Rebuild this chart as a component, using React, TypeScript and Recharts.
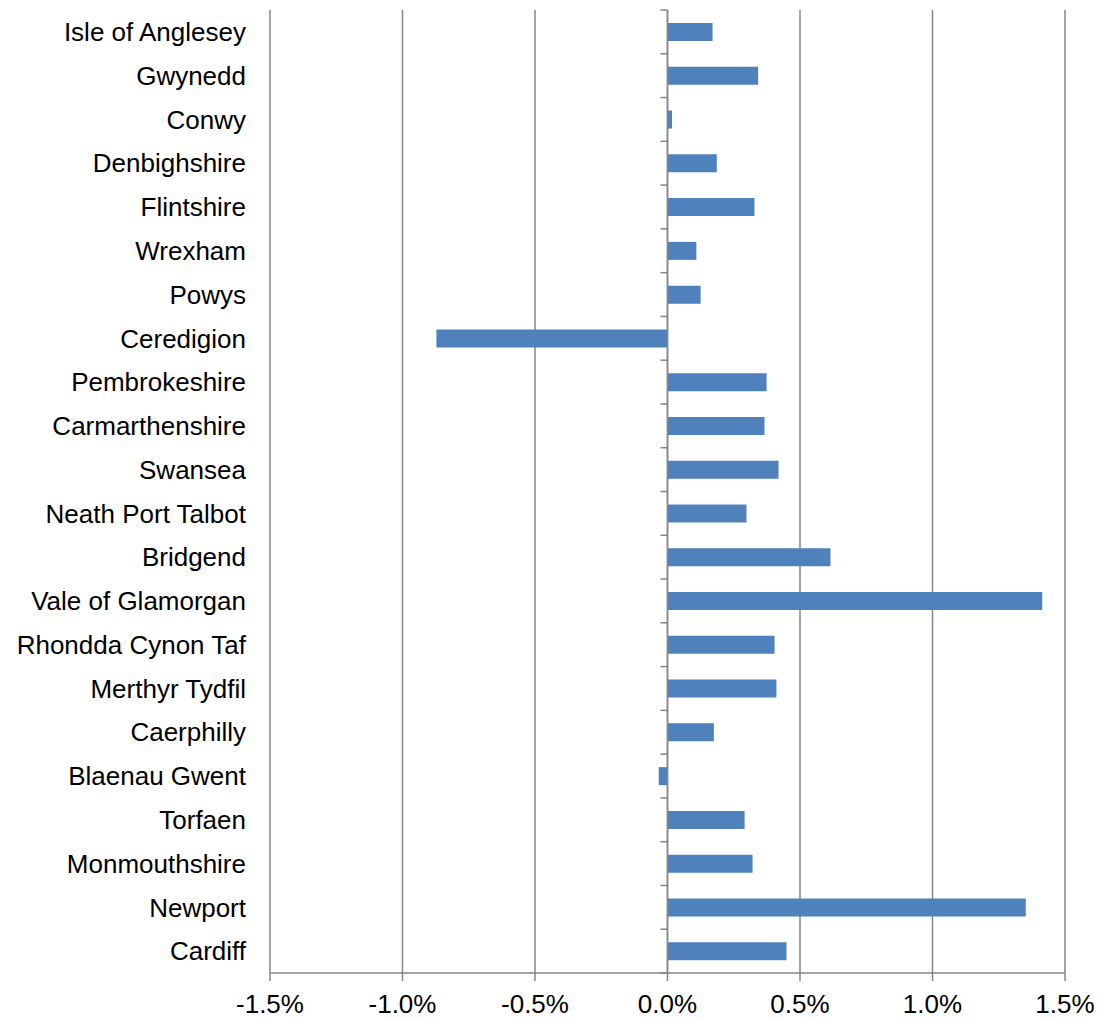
import React from "react";
import {
  BarChart,
  Bar,
  XAxis,
  YAxis,
  CartesianGrid,
  ReferenceLine,
} from "recharts";

const areas = [
  "Isle of Anglesey",
  "Gwynedd",
  "Conwy",
  "Denbighshire",
  "Flintshire",
  "Wrexham",
  "Powys",
  "Ceredigion",
  "Pembrokeshire",
  "Carmarthenshire",
  "Swansea",
  "Neath Port Talbot",
  "Bridgend",
  "Vale of Glamorgan",
  "Rhondda Cynon Taf",
  "Merthyr Tydfil",
  "Caerphilly",
  "Blaenau Gwent",
  "Torfaen",
  "Monmouthshire",
  "Newport",
  "Cardiff",
];

// percentage change
const change = [
  0.17, 0.342, 0.017, 0.186, 0.328, 0.109, 0.125, -0.872, 0.374, 0.366, 0.419,
  0.298, 0.615, 1.414, 0.404, 0.411, 0.175, -0.033, 0.291, 0.321, 1.352, 0.449,
];

const xTicks = [-1.5, -1.0, -0.5, 0.0, 0.5, 1.0, 1.5];

const data = areas.map((name, i) => ({ name, value: change[i] }));

const GREY = "#868686";
const FONT = "'Liberation Sans', Arial, sans-serif";

// zero line with category boundary tick marks
const ZeroAxis = (props: any) => {
  const { x1, y1, x2, y2 } = props;
  const n = areas.length;
  const step = (y2 - y1) / n;
  const marks = [];
  for (let i = 0; i <= n; i++) {
    const y = y1 + i * step;
    marks.push(
      <line key={i} x1={x1 - 7} x2={x1} y1={y} y2={y} stroke={GREY} strokeWidth={1.5} />
    );
  }
  return (
    <g>
      <line x1={x1} y1={y1} x2={x2} y2={y2} stroke={GREY} strokeWidth={1.5} />
      {marks}
    </g>
  );
};

export default function App() {
  return (
    <div style={{ position: "absolute", left: 0, top: 0, background: "#fff" }}>
      <BarChart
        width={1098}
        height={1018}
        data={data}
        layout="vertical"
        barSize={18}
        margin={{ top: 10, right: 33, bottom: 0, left: 0 }}
        style={{ fontFamily: FONT }}
      >
        <CartesianGrid
          horizontal={false}
          vertical={true}
          stroke={GREY}
          strokeWidth={1.5}
        />
        <XAxis
          type="number"
          domain={[-1.5, 1.5]}
          ticks={xTicks}
          interval={0}
          height={45}
          tickSize={8}
          tickMargin={14}
          axisLine={{ stroke: GREY, strokeWidth: 1.5 }}
          tickLine={{ stroke: GREY, strokeWidth: 1.5 }}
          tick={{ fill: "#000", fontSize: 26 }}
          tickFormatter={(v: number) => v.toFixed(1) + "%"}
        />
        <YAxis
          type="category"
          dataKey="name"
          width={270}
          interval={0}
          axisLine={false}
          tickLine={false}
          tickSize={0}
          tickMargin={24}
          tick={{ fill: "#000", fontSize: 26 }}
        />
        <Bar dataKey="value" fill="#4F81BD" isAnimationActive={false} />
        <ReferenceLine x={0} shape={ZeroAxis} />
      </BarChart>
    </div>
  );
}
